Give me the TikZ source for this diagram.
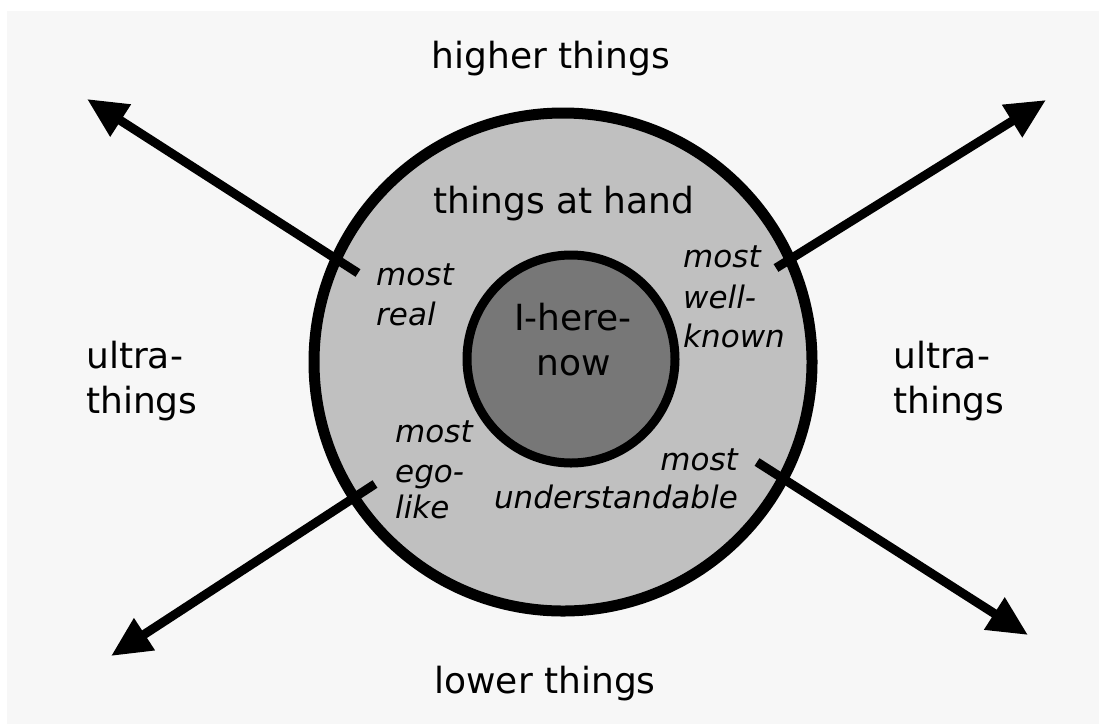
\documentclass[tikz,border=0pt]{standalone}
\usepackage{fontspec}
\setmainfont{DejaVu Sans}
\usetikzlibrary{arrows.meta}
\definecolor{bg}{HTML}{F7F7F7}
\definecolor{ring}{HTML}{C0C0C0}
\definecolor{core}{HTML}{777777}
\tikzset{
  lbl/.style={font=\fontsize{36}{40}\selectfont, inner sep=0pt, anchor=base},
  ital/.style={font=\fontsize{31}{36}\selectfont\itshape, inner sep=0pt},
  bigarrow/.style={line width=9pt, -{Triangle[length=40pt,width=36pt]}},
  circ/.style={circle, draw=black, inner sep=0pt}
}
\begin{document}
\begin{tikzpicture}[x=1pt,y=-1pt]
\useasboundingbox (0,0) rectangle (1099,724);
\fill[white] (0,0) rectangle (1099,724);
\fill[bg] (7,11) rectangle (1099,724);

% circles
\node[circ, line width=11pt, fill=ring, minimum size=498pt] (outer) at (563,362) {};
\node[circ, line width=9pt, fill=core, minimum size=208pt] (inner) at (571,359) {};

% arrow anchors
\coordinate (nws) at (358,273);
\coordinate (nwt) at (87,99);
\coordinate (nes) at (776,268);
\coordinate (net) at (1046,100);
\coordinate (sws) at (375,484);
\coordinate (swt) at (111,656);
\coordinate (ses) at (757,462);
\coordinate (set) at (1028,635);
\draw[bigarrow] (nws) -- (nwt);
\draw[bigarrow] (nes) -- (net);
\draw[bigarrow] (sws) -- (swt);
\draw[bigarrow] (ses) -- (set);

% outer labels
\node[lbl] (higher) at (551,68) {higher things};
\node[lbl] (lower) at (545,693) {lower things};
\node[lbl, anchor=base west] (ulA) at (86,368) {ultra-};
\node[lbl, anchor=base west] (ulB) at (86,413) {things};
\node[lbl, anchor=base west] (urA) at (893,368) {ultra-};
\node[lbl, anchor=base west] (urB) at (893,413) {things};

% ring labels
\node[lbl] (hand) at (564,213) {things at hand};
\node[lbl] (ihA) at (573,330) {I-here-};
\node[lbl] (ihB) at (574,375) {now};

% italic labels
\node[ital, anchor=base west] (mrA) at (376,285) {most};
\node[ital, anchor=base west] (mrB) at (376,325) {real};
\node[ital, anchor=base west] (mwA) at (683,267) {most};
\node[ital, anchor=base west] (mwB) at (683,308) {well-};
\node[ital, anchor=base west] (mwC) at (683,347) {known};
\node[ital, anchor=base west] (meA) at (395,442) {most};
\node[ital, anchor=base west] (meB) at (395,482) {ego-};
\node[ital, anchor=base west] (meC) at (395,518) {like};
\node[ital, anchor=base east] (muA) at (738,470) {most};
\node[ital, anchor=base east] (muB) at (738,508) {understandable};
\end{tikzpicture}
\end{document}
